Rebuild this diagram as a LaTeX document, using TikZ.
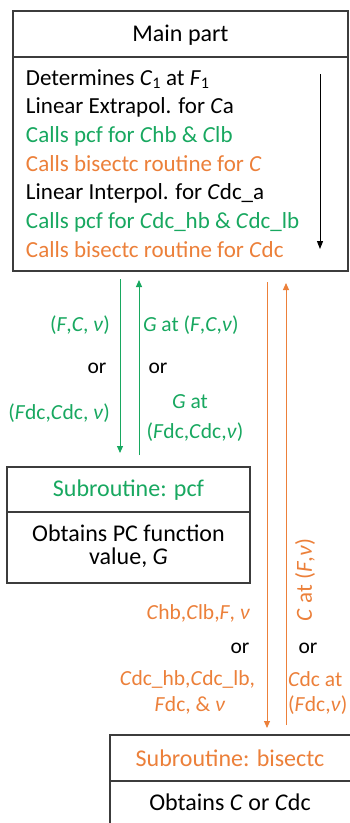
\documentclass[tikz,border=0pt]{standalone}
\usepackage{fontspec}
\setmainfont{Carlito}
\usetikzlibrary{arrows.meta,calc}
\definecolor{gtxt}{RGB}{24,168,96}
\definecolor{otxt}{RGB}{236,128,58}
\definecolor{boxline}{RGB}{60,60,60}
\tikzset{
  every node/.style={font=\fontsize{23}{28.7}\selectfont, inner sep=0pt, outer sep=0pt},
  boxpart/.style={draw=boxline, line width=1.2pt, minimum width=#1, anchor=north west},
  lineL/.style={anchor=base west},
  lbl/.style={font=\fontsize{21.5}{26}\selectfont},
  ttl/.style={font=\fontsize{24}{28}\selectfont},
  garrow/.style={draw=gtxt, line width=1pt, -{Triangle[length=7pt,width=6pt]}},
  oarrow/.style={draw=otxt, line width=1pt, -{Triangle[length=7pt,width=6pt]}},
  karrow/.style={draw=black, line width=1pt, -{Triangle[length=8pt,width=6pt]}},
}
\newcommand{\vi}[1]{\textit{#1}}
\begin{document}
\begin{tikzpicture}[x=1pt,y=-1pt]
\useasboundingbox (0,0) rectangle (350,823);
\clip (0,0) rectangle (350,823);
\fill[white] (0,0) rectangle (350,823);

% Main part box
\node[boxpart=335pt, minimum height=46pt] (mainhead) at (13,11) {};
\node[boxpart=335pt, minimum height=214pt] (mainbody) at (13,57) {};
\node[ttl] (maintitle) at (180.5,35) {Main part};
\node[lineL] (m1) at (26,85) {Determines \vi{C}\textsubscript{1} at \vi{F}\textsubscript{1}};
\node[lineL] (m2) at (26,113.7) {Linear Extrapol. for \vi{C}a};
\node[lineL, text=gtxt] (m3) at (26,142.4) {Calls pcf for \vi{C}hb \& \vi{C}lb};
\node[lineL, text=otxt] (m4) at (26,171.1) {Calls bisectc routine for \vi{C}};
\node[lineL] (m5) at (26,199.8) {Linear Interpol. for \vi{C}dc\_a};
\node[lineL, text=gtxt] (m6) at (26,228.5) {Calls pcf for \vi{C}dc\_hb \& \vi{C}dc\_lb};
\node[lineL, text=otxt] (m7) at (26,257.2) {Calls bisectc routine for \vi{C}dc};
\coordinate (ktop) at (320,74);
\coordinate (kbot) at (320,249);
\draw[karrow] (ktop) -- (kbot);

% pcf box
\node[boxpart=243pt, minimum height=45pt] (pcfhead) at (7,467) {};
\node[boxpart=243pt, minimum height=71pt] (pcfbody) at (7,512) {};
\node[ttl, text=gtxt] (pcftitle) at (128.5,490) {Subroutine: pcf};
\node[align=center, font=\fontsize{24}{23.5}\selectfont] (pcftext) at (128.5,546) {Obtains PC function\\value, \vi{G}};

% bisectc box
\node[boxpart=241pt, minimum height=46pt] (bishead) at (110,735) {};
\node[boxpart=241pt, minimum height=60pt] (bisbody) at (110,781) {};
\node[ttl, text=otxt] (bistitle) at (230,758) {Subroutine: bisectc};
\node[ttl] (bistext) at (230,802) {Obtains \vi{C} or \vi{C}dc};

% green connectors
\coordinate (gx1) at (120,0);
\coordinate (gx2) at (139,0);
\draw[garrow, shorten <=8pt, shorten >=14pt] (mainbody.south -| gx1) -- (pcfhead.north -| gx1);
\draw[garrow, shorten <=12pt, shorten >=9pt] (pcfhead.north -| gx2) -- (mainbody.south -| gx2);

% orange connectors
\coordinate (ox1) at (267,0);
\coordinate (ox2) at (286,0);
\draw[oarrow, shorten <=11pt, shorten >=7pt] (mainbody.south -| ox1) -- (bishead.north -| ox1);
\draw[oarrow, shorten <=10pt, shorten >=12pt] (bishead.north -| ox2) -- (mainbody.south -| ox2);

% green labels
\node[lbl, anchor=east, text=gtxt] (gl1) at (110,325) {(\vi{F},\vi{C}, \vi{ν})};
\node[lbl] (gl2) at (97,368) {or};
\node[lbl, anchor=east, text=gtxt] (gl3) at (110,413) {(\vi{F}dc,\vi{C}dc, \vi{ν})};
\node[lbl, anchor=west, text=gtxt] (gr1) at (143,325) {\vi{G} at (\vi{F},\vi{C},\vi{ν})};
\node[lbl] (gr2) at (158,368) {or};
\node[lbl, text=gtxt] (gr3) at (190,402) {\vi{G} at};
\node[lbl, text=gtxt] (gr4) at (195,432) {(\vi{F}dc,\vi{C}dc,\vi{ν})};

% orange labels
\node[lbl, anchor=east, text=otxt] (ol1) at (250,613) {\vi{C}hb,\vi{C}lb,\vi{F}, \vi{ν}};
\node[lbl] (ol2) at (240,648) {or};
\node[lbl, anchor=east, text=otxt] (ol3) at (255,679) {\vi{C}dc\_hb,\vi{C}dc\_lb,};
\node[lbl, text=otxt] (ol4) at (190,705) {\vi{F}dc, \& \vi{ν}};
\node[lbl] (or2) at (308,648) {or};
\node[lbl, anchor=west, text=otxt] (or3) at (288,679) {\vi{C}dc at};
\node[lbl, anchor=west, text=otxt] (or4) at (288,705) {(\vi{F}dc,\vi{ν})};
\node[rotate=90, text=otxt, font=\fontsize{23}{26}\selectfont] (orot) at (305,580) {\vi{C} at (\vi{F},\vi{ν})};
\end{tikzpicture}
\end{document}
